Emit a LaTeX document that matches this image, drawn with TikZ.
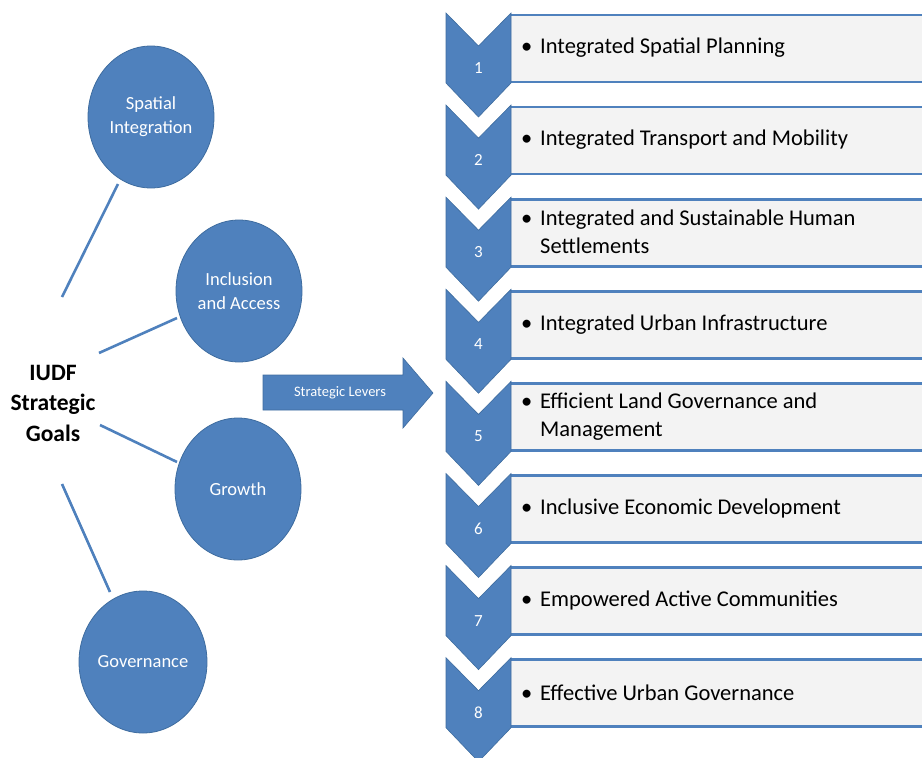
\documentclass[tikz,border=0pt]{standalone}
\usepackage{fontspec}
\setmainfont{Carlito}
\usetikzlibrary{shapes.geometric}
\definecolor{lever}{HTML}{4F81BD}
\definecolor{leveredge}{HTML}{3E6C9F}
\definecolor{boxfill}{HTML}{F3F3F3}
\begin{document}
\begin{tikzpicture}[x=1pt,y=-1pt,
  goal/.style={ellipse,fill=lever,draw=leveredge,line width=0.8pt,
    minimum width=126pt,minimum height=142pt,inner sep=0pt,
    text=white,align=center,font=\fontsize{18.5}{24}\selectfont},
  link/.style={draw=lever,line width=2.6pt},
  chev/.style={fill=lever,draw=leveredge,line width=0.6pt},
  leverbox/.style={fill=boxfill,draw=none},
  boxline/.style={draw=lever,line width=2.6pt},
  num/.style={text=white,font=\fontsize{17}{20}\selectfont},
  item/.style={anchor=west,align=left,inner sep=0pt,
    font=\fontsize{22.5}{28}\selectfont},
  title/.style={align=center,font=\bfseries\fontsize{23.5}{30.5}\selectfont}]
\useasboundingbox (0,0) rectangle (922,758);
\clip (0,0) rectangle (922,758);

% strategic goals
\node[title] (iudf) at (53,403) {IUDF\\Strategic\\Goals};
\node[goal] (si) at (151,117) {Spatial\\Integration};
\node[goal] (ia) at (239,291) {Inclusion\\and Access};
\node[goal] (gr) at (238,489) {Growth};
\node[goal] (gv) at (143,662) {Governance};

\coordinate (l1a) at (62,297);  \coordinate (l1b) at (118,184);
\coordinate (l2a) at (99,353);  \coordinate (l2b) at (177,318);
\coordinate (l3a) at (100,425); \coordinate (l3b) at (177,462);
\coordinate (l4a) at (62,484);  \coordinate (l4b) at (110,592);
\draw[link] (l1a) -- (l1b);
\draw[link] (l2a) -- (l2b);
\draw[link] (l3a) -- (l3b);
\draw[link] (l4a) -- (l4b);

% block arrow
\draw[chev] (263,375) -- (403,375) -- (403,358) -- (433,393) -- (403,428)
  -- (403,410) -- (263,410) -- cycle;
\node[text=white,font=\fontsize{14.5}{16}\selectfont] (sl) at (340,393) {Strategic Levers};

% strategic levers
\foreach \i/\txt in {
  1/{Integrated Spatial Planning},
  2/{Integrated Transport and Mobility},
  3/{Integrated and Sustainable Human\\\hspace*{19pt}Settlements},
  4/{Integrated Urban Infrastructure},
  5/{Efficient Land Governance and\\\hspace*{19pt}Management},
  6/{Inclusive Economic Development},
  7/{Empowered Active Communities},
  8/{Effective Urban Governance}}{
  \pgfmathsetmacro{\t}{13+92.1*(\i-1)}
  \fill[leverbox] (511,\t+2) rectangle (930,\t+69);
  \draw[boxline] (511,\t+2) -- (930,\t+2);
  \draw[boxline] (511,\t+69) -- (930,\t+69);
  \draw[chev] (446,\t) -- (478.5,\t+33) -- (511,\t) -- (511,\t+70)
    -- (478.5,\t+104) -- (446,\t+70) -- cycle;
  \node[num] (n\i) at (478.5,\t+55) {\i};
  \node[item] (t\i) at (521,\t+35) {\makebox[19pt][l]{\textbullet}\txt};
}
\end{tikzpicture}
\end{document}
